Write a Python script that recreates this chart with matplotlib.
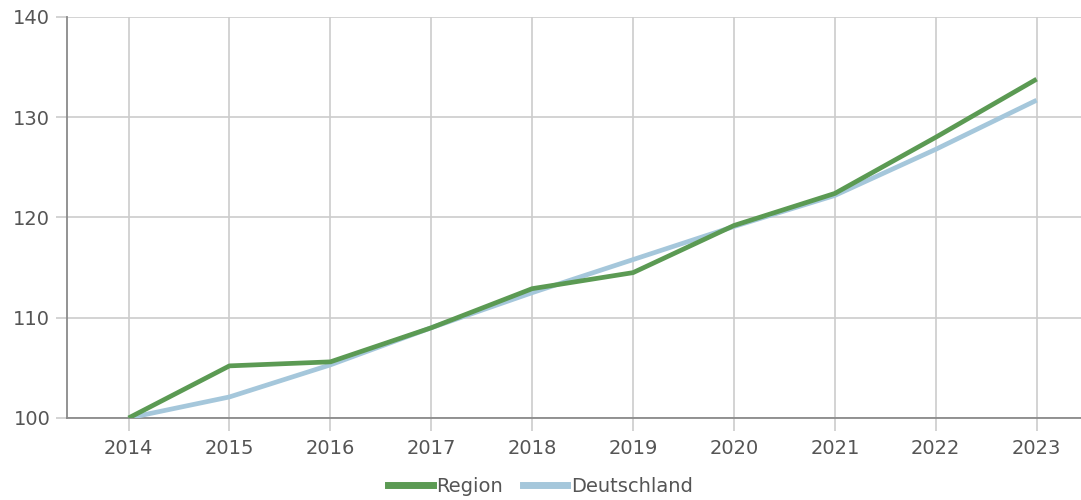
import matplotlib
matplotlib.use("Agg")
import matplotlib.pyplot as plt
from matplotlib.lines import Line2D

years = [2014, 2015, 2016, 2017, 2018, 2019, 2020, 2021, 2022, 2023]
region = [100.0, 105.2, 105.6, 109.0, 112.9, 114.5, 119.2, 122.4, 128.0, 133.8]
deutschland = [100.0, 102.1, 105.3, 109.0, 112.5, 115.8, 119.1, 122.2, 126.8, 131.7]
yticks = [100, 110, 120, 130, 140]

green = "#5b9a53"
blue = "#a5c7db"
text_color = "#555555"
grid_color = "#cccccc"

fig = plt.figure(figsize=(10.81, 5.0), dpi=100)
ax = fig.add_axes([0.062, 0.164, 0.938, 0.802])

ax.plot(years, deutschland, color=blue, lw=3.4, solid_capstyle="butt", zorder=3)
ax.plot(years, region, color=green, lw=3.4, solid_capstyle="butt", zorder=4)

ax.set_xlim(2013.39, 2023.44)
ax.set_ylim(100, 140)
ax.set_xticks(years)
ax.set_yticks(yticks)
ax.set_xticklabels([str(y) for y in years])
ax.grid(True, color=grid_color, lw=1.2, zorder=0)

for s in ["top", "right"]:
    ax.spines[s].set_visible(False)
ax.spines["left"].set_color("#8a8a8a")
ax.spines["left"].set_linewidth(1.3)
ax.spines["bottom"].set_color("#8a8a8a")
ax.spines["bottom"].set_linewidth(1.3)
ax.spines["bottom"].set_zorder(2)

ax.tick_params(axis="y", length=8, width=1.2, color=grid_color, labelsize=14,
               labelcolor=text_color, pad=4)
ax.tick_params(axis="x", length=9, width=1.2, color=grid_color, labelsize=14,
               labelcolor=text_color, pad=6)

handles = [Line2D([0], [0], color=green, lw=5),
           Line2D([0], [0], color=blue, lw=5)]
leg = fig.legend(handles, ["Region", "Deutschland"], loc="center",
                 bbox_to_anchor=(0.5, 0.027), ncol=2, frameon=False,
                 fontsize=14, handlelength=2.3, handletextpad=0.2,
                 columnspacing=1.0, labelcolor=text_color)

fig.savefig("out.png", dpi=100)
